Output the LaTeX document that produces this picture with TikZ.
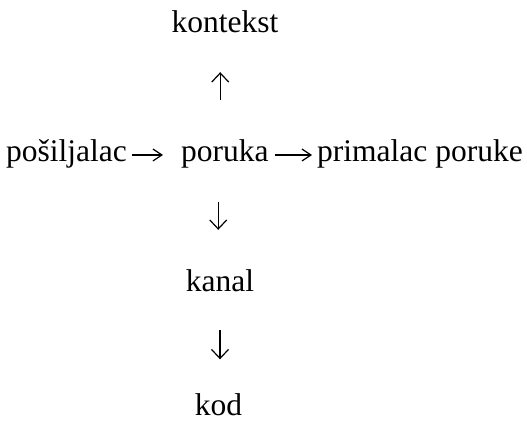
\documentclass[tikz,border=0pt]{standalone}
\usepackage{fontspec}
\setmainfont{Liberation Serif}
\usetikzlibrary{arrows.meta}
\begin{document}
\begin{tikzpicture}[x=1pt,y=1pt,
  label/.style={inner sep=0pt, font=\fontsize{31.5}{38}\selectfont,
    text height=21pt, text depth=7pt},
  conn/.style={line width=1.2pt, line cap=butt},
  hconn/.style={conn, -{Straight Barb[length=9pt,width=12pt,line width=1.2pt]}},
  vconn/.style={conn, -{Straight Barb[length=9pt,width=17pt,line width=1.2pt]}}]
\useasboundingbox (0,0) rectangle (527,423);

% terms of the communication model
\node[label, anchor=base] (kontekst) at (225,390) {kontekst};
\node[label, anchor=base] (posiljalac) at (66.5,261) {pošiljalac};
\node[label, anchor=base west] (poruka) at (181,261) {poruka};
\node[label, anchor=base west] (primalac) at (317,261) {primalac poruke};
\node[label, anchor=base] (kanal) at (220,131) {kanal};
\node[label, anchor=base] (kod) at (218.5,7.5) {kod};

% horizontal arrows
\draw[hconn, shorten <=5pt, shorten >=18pt]
  ([yshift=7pt]posiljalac.base east) -- ([yshift=7pt]poruka.base west);
\draw[hconn, shorten <=6.5pt, shorten >=5pt]
  ([yshift=7pt]poruka.base east) -- ([yshift=7pt]primalac.base west);

% vertical arrows
\draw[vconn, shorten <=41pt, shorten >=32pt]
  ([xshift=-4.7pt]poruka.north) -- ([xshift=-4.7pt]poruka.north |- kontekst.south);
\draw[vconn, shorten <=33pt, shorten >=41pt]
  ([xshift=-6.7pt]poruka.south) -- ([xshift=-6.7pt]poruka.south |- kanal.north);
\draw[vconn, shorten <=31pt, shorten >=35pt]
  (kanal.south) -- (kanal.south |- kod.north);
\end{tikzpicture}
\end{document}
